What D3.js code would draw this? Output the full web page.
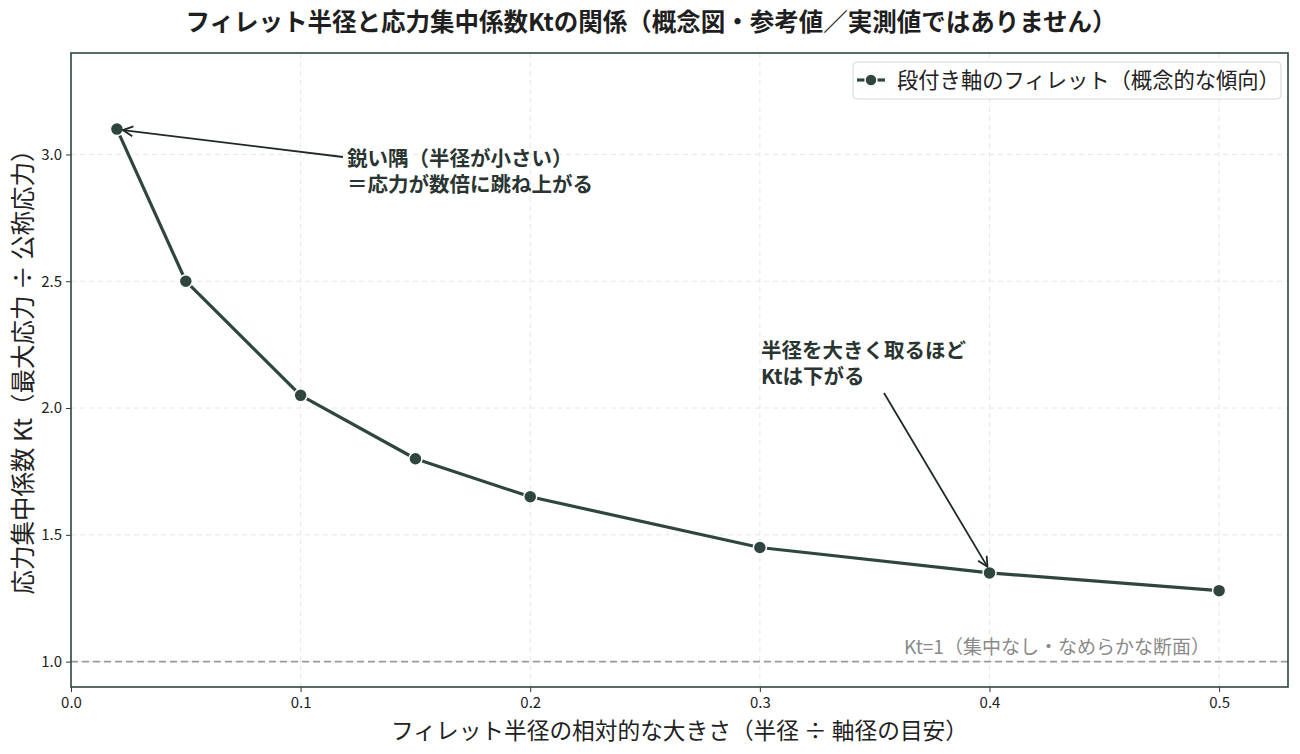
<!DOCTYPE html>
<html><head><meta charset="utf-8">
<script src="https://cdn.jsdelivr.net/npm/d3@7"></script>
<style>
body{margin:0;background:#fff;}
text{font-family:"Noto Sans CJK JP","Noto Sans",sans-serif;}
</style></head>
<body><svg id="c" width="1300" height="754"></svg>
<script>
const radius = [0.02, 0.05, 0.1, 0.15, 0.2, 0.3, 0.4, 0.5];
const kt = [3.10, 2.50, 2.05, 1.80, 1.65, 1.45, 1.35, 1.28];
const xTicks = [0.0, 0.1, 0.2, 0.3, 0.4, 0.5];
const yTicks = [1.0, 1.5, 2.0, 2.5, 3.0];
const title = "フィレット半径と応力集中係数Ktの関係（概念図・参考値／実測値ではありません）";
const xLabel = "フィレット半径の相対的な大きさ（半径 ÷ 軸径の目安）";
const yLabel = "応力集中係数 Kt（最大応力 ÷ 公称応力）";
const legendLabel = "段付き軸のフィレット（概念的な傾向）";
const ann1 = ["鋭い隅（半径が小さい）", "＝応力が数倍に跳ね上がる"];
const ann2 = ["半径を大きく取るほど", "Ktは下がる"];
const refLabel = "Kt=1（集中なし・なめらかな断面）";

const col = "#2f4640";
const svg = d3.select("#c");
const m = {l:71, r:1288, t:53, b:687};
const x = d3.scaleLinear().domain([0, 0.53]).range([m.l, m.r]);
const y = d3.scaleLinear().domain([0.9, 3.4]).range([m.b, m.t]);

svg.append("defs").append("marker").attr("id","ah").attr("viewBox","0 0 12 12")
  .attr("refX",11).attr("refY",6).attr("markerWidth",12).attr("markerHeight",12)
  .attr("markerUnits","userSpaceOnUse").attr("orient","auto")
  .append("path").attr("d","M1,1 L11,6 L1,11").attr("fill","none").attr("stroke","#1f2a27").attr("stroke-width",1.8);

// grid
svg.append("g").selectAll("line").data(xTicks).join("line")
  .attr("x1",d=>x(d)).attr("x2",d=>x(d)).attr("y1",m.t).attr("y2",m.b)
  .attr("stroke","#e4e4e4").attr("stroke-dasharray","5,4").attr("stroke-width",0.9);
svg.append("g").selectAll("line").data(yTicks).join("line")
  .attr("x1",m.l).attr("x2",m.r).attr("y1",d=>y(d)).attr("y2",d=>y(d))
  .attr("stroke","#e4e4e4").attr("stroke-dasharray","5,4").attr("stroke-width",0.9);

// reference line
svg.append("line").attr("x1",m.l).attr("x2",m.r).attr("y1",y(1)).attr("y2",y(1))
  .attr("stroke","#9a9a9a").attr("stroke-width",1.6).attr("stroke-dasharray","7,4");
svg.append("text").attr("x",x(0.496)).attr("y",y(1)-8).attr("text-anchor","end")
  .attr("font-size",19).attr("fill","#8a8a8a").text(refLabel);

// axes
const xa = svg.append("g").attr("transform",`translate(0,${m.b})`)
  .call(d3.axisBottom(x).tickValues(xTicks).tickFormat(d3.format(".1f")).tickSize(5).tickPadding(5));
const ya = svg.append("g").attr("transform",`translate(${m.l},0)`)
  .call(d3.axisLeft(y).tickValues(yTicks).tickFormat(d3.format(".1f")).tickSize(5).tickPadding(4));
[xa,ya].forEach(a=>{a.select(".domain").remove();
  a.selectAll("text").attr("font-size",15).attr("fill","#222");
  a.selectAll("line").attr("stroke","#333");});

// frame
svg.append("rect").attr("x",m.l).attr("y",m.t).attr("width",m.r-m.l).attr("height",m.b-m.t)
  .attr("fill","none").attr("stroke",col).attr("stroke-width",1.6);

// line + points
const pts = radius.map((r,i)=>[r,kt[i]]);
svg.append("path").datum(pts)
  .attr("d",d3.line().x(d=>x(d[0])).y(d=>y(d[1])))
  .attr("fill","none").attr("stroke",col).attr("stroke-width",3.2).attr("stroke-linejoin","round");
svg.append("g").selectAll("circle").data(pts).join("circle")
  .attr("cx",d=>x(d[0])).attr("cy",d=>y(d[1])).attr("r",6.5)
  .attr("fill",col).attr("stroke","#fff").attr("stroke-width",1.5);

// annotations
function ann(lines, tx, ty, ax0, ay0, px, py){
  lines.forEach((l,i)=>svg.append("text").attr("x",tx).attr("y",ty+i*25.5)
    .attr("font-size",20.5).attr("font-weight","bold").attr("fill","#2a3532").text(l));
  svg.append("line").attr("x1",ax0).attr("y1",ay0).attr("x2",px).attr("y2",py)
    .attr("stroke","#1f2a27").attr("stroke-width",1.8).attr("marker-end","url(#ah)");
}
ann(ann1, 347, 166, 343, 157, x(0.02)+6, y(3.10)+1);
ann(ann2, 761, 358, 884, 393, x(0.4)-2, y(1.35)-6);

// legend
const lg = svg.append("g");
lg.append("rect").attr("x",853).attr("y",62).attr("width",428).attr("height",37).attr("rx",4)
  .attr("fill","#fff").attr("stroke","#d6d6d6").attr("stroke-width",1);
lg.append("line").attr("x1",857).attr("x2",885).attr("y1",80).attr("y2",80).attr("stroke",col).attr("stroke-width",3.2);
lg.append("circle").attr("cx",871).attr("cy",80).attr("r",6).attr("fill",col).attr("stroke","#fff").attr("stroke-width",1.5);
lg.append("text").attr("x",897).attr("y",88).attr("font-size",21.3).attr("fill","#222").text(legendLabel);

// titles
svg.append("text").attr("x",651).attr("y",31).attr("text-anchor","middle").attr("font-size",24.5)
  .attr("font-weight","bold").attr("fill","#1f1f1f").text(title);
svg.append("text").attr("x",(m.l+m.r)/2).attr("y",739).attr("text-anchor","middle").attr("font-size",22.7)
  .attr("fill","#222").text(xLabel);
svg.append("text").attr("transform",`translate(32,366) rotate(-90)`).attr("text-anchor","middle")
  .attr("font-size",24.5).attr("fill","#222").text(yLabel);
</script></body></html>
